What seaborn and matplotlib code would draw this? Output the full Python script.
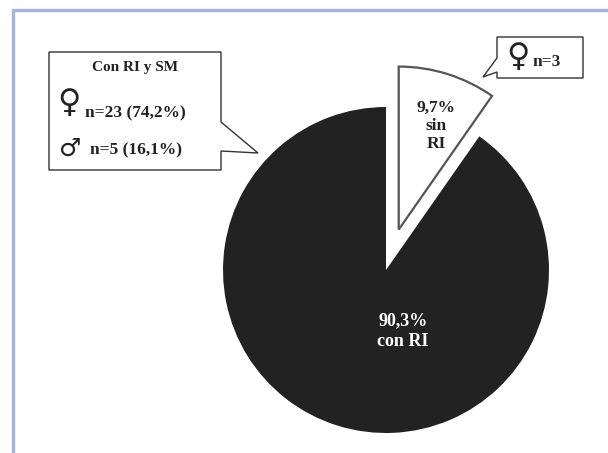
import matplotlib
matplotlib.use("Agg")
import matplotlib.pyplot as plt
import seaborn as sns
from matplotlib.patches import Polygon

# data
slice_labels = ["sin RI", "con RI"]
slice_pct = [9.7, 90.3]
slice_colors = ["white", "#222222"]
group_title = "Con RI y SM"
female_n, female_pct = 23, 74.2
male_n, male_pct = 5, 16.1
sin_ri_female_n = 3

W, H = 608, 453

sns.set_theme(style="white")
plt.rcParams["font.family"] = ["Liberation Serif", "DejaVu Serif"]

fig = plt.figure(figsize=(W / 100, H / 100), dpi=100)
ax = fig.add_axes([0, 0, 1, 1])


def Y(y):
    # helper: pixel rows counted from the top
    return H - y


radius = 163
# matplotlib adds explode in data units, so scale by the radius
wedges, _ = ax.pie(slice_pct, colors=slice_colors, startangle=90, counterclock=False,
                   explode=[0.26 * radius, 0], center=(386, Y(270)), radius=radius,
                   frame=True)
ax.set_xlim(0, W)
ax.set_ylim(0, H)
ax.axis("off")
wedges[0].set_edgecolor("#555555")
wedges[0].set_linewidth(1.6)
wedges[1].set_linewidth(0)


def fmt(v):
    return f"{v:.1f}".replace(".", ",") + "%"


ax.text(436, Y(126), f"{fmt(slice_pct[0])}\nsin\nRI", ha="center", va="center",
        fontsize=12.5, fontweight="bold", color="#222222", linespacing=1.2)
ax.text(403, Y(331), f"{fmt(slice_pct[1])}\ncon RI", ha="center", va="center",
        fontsize=13, fontweight="bold", color="white", linespacing=1.25)

# callout 1
box1 = [(49, 52), (221, 52), (221, 122), (258, 153), (221, 151),
        (221, 170), (49, 170)]
ax.add_patch(Polygon([(x, Y(y)) for x, y in box1], closed=True, facecolor="white",
                     edgecolor="#333333", linewidth=1.0, zorder=3))
ax.text(135, Y(67), group_title, ha="center", va="center", fontsize=11,
        fontweight="bold", color="#222222", zorder=4)
ax.text(69, Y(103), "\u2640", ha="center", va="center", fontsize=23,
        family=["DejaVu Sans"], color="#222222", zorder=4)
ax.text(85, Y(113), f"n={female_n} ({fmt(female_pct)})", ha="left", va="center",
        fontsize=12.5, fontweight="bold", color="#222222", zorder=4)
ax.text(70, Y(149), "\u2642", ha="center", va="center", fontsize=18,
        family=["DejaVu Sans"], color="#222222", zorder=4)
ax.text(90, Y(150), f"n={male_n} ({fmt(male_pct)})", ha="left", va="center",
        fontsize=12.5, fontweight="bold", color="#222222", zorder=4)

# callout 2
box2 = [(497, 37), (583, 37), (583, 78), (497, 78), (497, 72), (483, 77), (497, 58)]
ax.add_patch(Polygon([(x, Y(y)) for x, y in box2], closed=True, facecolor="white",
                     edgecolor="#333333", linewidth=1.0, zorder=3))
ax.text(518, Y(57), "\u2640", ha="center", va="center", fontsize=23,
        family=["DejaVu Sans"], color="#222222", zorder=4)
ax.text(533, Y(62), f"n={sin_ri_female_n}", ha="left", va="center",
        fontsize=12.5, fontweight="bold", color="#222222", zorder=4)

# light blue frame (only left and top visible)
ax.plot([12.5, 12.5, W + 5], [-5, Y(9.5), Y(9.5)], color="#a3b5d9",
        linewidth=2.4, solid_joinstyle="miter", clip_on=False)

fig.savefig("out.png", dpi=100)
